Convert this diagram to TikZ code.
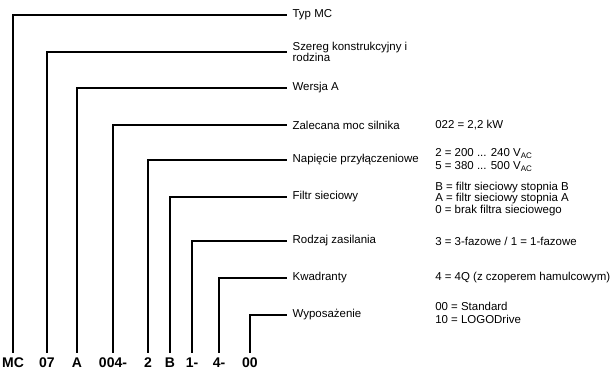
\documentclass[tikz,border=0pt]{standalone}
\usepackage{fontspec}
\setmainfont{Liberation Sans}
\usetikzlibrary{positioning}

\begin{document}
\begin{tikzpicture}[x=0.75pt, y=-0.75pt,
    field/.style={anchor=west, inner xsep=4pt, inner ysep=0pt, align=left,
                  font=\fontsize{8.6}{8.8}\selectfont},
    value/.style={anchor=west, inner sep=0pt, align=left,
                  font=\fontsize{8.6}{8.8}\selectfont},
    code/.style={anchor=base, inner xsep=0pt, inner ysep=3pt, text height=7.6pt,
                 font=\bfseries\fontsize{10.5}{12}\selectfont},
    lead/.style={line width=1.3pt}
]
\useasboundingbox (0,0) rectangle (615,372);

% type code, bottom row
\node[code] (mc)   at (13,367)  {MC};
\node[code] (ser)  at (47,367)  {07};
\node[code] (ver)  at (77,367)  {A};
\node[code] (pow)  at (113,367) {004-};
\node[code] (volt) at (148,367) {2};
\node[code] (filt) at (170,367) {B};
\node[code] (sup)  at (192,367) {1-};
\node[code] (quad) at (219,367) {4-};
\node[code] (opt)  at (250,367) {00};

% field names
\node[field] (typ)   at (287,15)  {Typ MC};
\node[field] (fam)   at (287,52)  {Szereg konstrukcyjny i\\rodzina};
\node[field] (wer)   at (287,88)  {Wersja A};
\node[field] (moc)   at (287,125) {Zalecana moc silnika};
\node[field] (nap)   at (287,160) {Napięcie przyłączeniowe};
\node[field] (fil)   at (287,197) {Filtr sieciowy};
\node[field] (zas)   at (287,241) {Rodzaj zasilania};
\node[field] (kwa)   at (287,278) {Kwadranty};
\node[field] (wyp)   at (287,315) {Wyposażenie};

% values
\node[value] (mocv) at (435,125) {022 = 2,2 kW};
\node[value] (napv) at (435,160) {2 = 200 ... 240 V\textsubscript{AC}\\[1pt]
                                  5 = 380 ... 500 V\textsubscript{AC}};
\node[value] (filv) at (435,199) {B = filtr sieciowy stopnia B\\
                                  A = filtr sieciowy stopnia A\\
                                  0 = brak filtra sieciowego};
\node[value] (zasv) at (435,241) {3 = 3-fazowe / 1 = 1-fazowe};
\node[value] (kwav) at (435,278) {4 = 4Q (z czoperem hamulcowym)};
\node[value] (wypv) at (435,313) {00 = Standard\\[1pt]10 = LOGODrive};

% leader lines
\draw[lead] (mc.north)   |- (typ.west);
\draw[lead] (ser.north)  |- (fam.west);
\draw[lead] (ver.north)  |- (wer.west);
\draw[lead] (pow.north)  |- (moc.west);
\draw[lead] (volt.north) |- (nap.west);
\draw[lead] (filt.north) |- (fil.west);
\draw[lead] (sup.north)  |- (zas.west);
\draw[lead] (quad.north) |- (kwa.west);
\draw[lead] (opt.north)  |- (wyp.west);

\end{tikzpicture}
\end{document}
